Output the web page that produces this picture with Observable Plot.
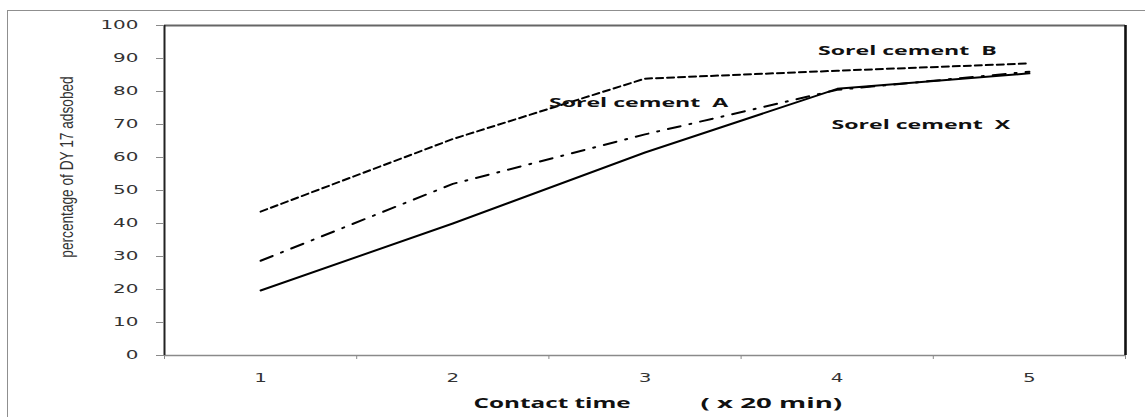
<!DOCTYPE html>
<html>
<head>
<meta charset="utf-8">
<script src="https://cdn.jsdelivr.net/npm/d3@7"></script>
<script src="https://cdn.jsdelivr.net/npm/@observablehq/plot@0.6"></script>
<style>
  html, body { margin: 0; padding: 0; background: #fff; overflow: hidden; }
  #wrap { position: relative; width: 1145px; height: 417px; }
  #outer { position: absolute; left: 7px; top: 10px; width: 1200px; height: 500px;
           border-left: 1.5px solid #8f8f8f; border-top: 1.5px solid #8f8f8f; box-sizing: border-box; }
  #chart { position: absolute; left: 0; top: 0; }
  #chart svg text { white-space: pre; }
</style>
</head>
<body>
<div id="wrap"><div id="outer"></div><div id="chart"></div></div>
<script>
// ---- data ----
const contactTimes = [1, 2, 3, 4, 5];
const sorelX = [19.7, 40.0, 61.5, 80.8, 85.5];
const sorelA = [28.7, 52.0, 67.0, 80.5, 86.0];
const sorelB = [43.6, 65.6, 83.9, 86.3, 88.5];
const yTickValues = [0, 10, 20, 30, 40, 50, 60, 70, 80, 90, 100];
const xBoundaryTicks = [0.5, 1.5, 2.5, 3.5, 4.5, 5.5];
const seriesNames = ["Sorel cement\u00a0\u00a0X", "Sorel cement\u00a0\u00a0A", "Sorel cement\u00a0\u00a0B"];
const labelTime = [3.97, 2.5, 3.9];
const labelValue = [69.8, 76.5, 92.4];
const yTitle = "percentage of DY 17 adsobed";
const xTitleParts = ["Contact time", "( x 20 min)"];

const rows = (vals, name) => contactTimes.map((t, i) => ({t, v: vals[i], name}));
const labels = seriesNames.map((s, i) => ({s, t: labelTime[i], v: labelValue[i]}));

const chart = Plot.plot({
  width: 1145,
  height: 417,
  marginLeft: 164,
  marginRight: 20,
  marginTop: 25,
  marginBottom: 62,
  style: {background: "transparent", fontFamily: "DejaVu Sans", overflow: "visible"},
  x: {domain: [0.5, 5.5]},
  y: {domain: [0, 100]},
  marks: [
    // frame
    Plot.ruleY([0], {stroke: "#8a8a8a", strokeWidth: 1.5}),
    Plot.ruleY([100], {stroke: "#666", strokeWidth: 2}),
    Plot.ruleX([0.5], {stroke: "#222", strokeWidth: 2}),
    Plot.ruleX([5.5], {stroke: "#111", strokeWidth: 2.6}),
    // axes
    Plot.axisY(yTickValues, {tickSize: 8, tickPadding: 18, stroke: "#8a8a8a", fill: "#333", fontSize: 11.4, tickFormat: "d", label: null}),
    Plot.axisX(xBoundaryTicks, {tickSize: 4, tickFormat: () => "", stroke: "#8a8a8a", label: null}),
    Plot.axisX(contactTimes, {tickSize: 0, tickPadding: 18, fill: "#333", fontSize: 11.4, tickFormat: "d", label: null}),
    // series
    Plot.line(rows(sorelB, "B"), {x: "t", y: "v", stroke: "#000", strokeWidth: 2, strokeDasharray: "7,4"}),
    Plot.line(rows(sorelA, "A"), {x: "t", y: "v", stroke: "#000", strokeWidth: 2, strokeDasharray: "13,9,2,9"}),
    Plot.line(rows(sorelX, "X"), {x: "t", y: "v", stroke: "#000", strokeWidth: 2}),
    // series labels
    Plot.text(labels, {x: "t", y: "v", text: "s", textAnchor: "start", lineAnchor: "middle",
      fontFamily: "Open Sans", fontWeight: "bold", fontSize: 12.5, fill: "#111"}),
    // axis titles
    Plot.text([yTitle], {frameAnchor: "left", dx: -98, dy: -23.5, rotate: -90, textAnchor: "middle", lineAnchor: "middle",
      fontFamily: "Liberation Sans", fontSize: 19, fill: "#333"}),
    Plot.text([xTitleParts[0]], {frameAnchor: "bottom", dx: -171.5, dy: 48, textAnchor: "start", lineAnchor: "middle",
      fontFamily: "Open Sans", fontWeight: "bold", fontSize: 13.5, fill: "#111"}),
    Plot.text([xTitleParts[1]], {frameAnchor: "bottom", dx: 55.5, dy: 48, textAnchor: "start", lineAnchor: "middle",
      fontFamily: "Open Sans", fontWeight: "bold", fontSize: 13.5, fill: "#111"})
  ]
});

document.getElementById("chart").appendChild(chart);

// horizontal stretch / condensing of text glyphs, as in the reference
function stretchEl(el, sx) {
  let t = el.getAttribute("transform");
  if (!t) {
    const x = el.getAttribute("x") || 0, y = el.getAttribute("y") || 0;
    el.removeAttribute("x"); el.removeAttribute("y");
    t = `translate(${x},${y})`;
  }
  el.setAttribute("transform", `${t} scale(${sx},1)`);
}
const numeric = /^\d+$/;
chart.querySelectorAll("text").forEach(el => {
  const s = el.textContent;
  if (numeric.test(s)) stretchEl(el, 1.75);
  else if (seriesNames.includes(s)) stretchEl(el, 1.85);
  else if (s === xTitleParts[0]) stretchEl(el, 1.8);
  else if (s === xTitleParts[1]) stretchEl(el, 2.05);
  else if (s === yTitle) stretchEl(el, 0.72);
});
</script>
</body>
</html>
